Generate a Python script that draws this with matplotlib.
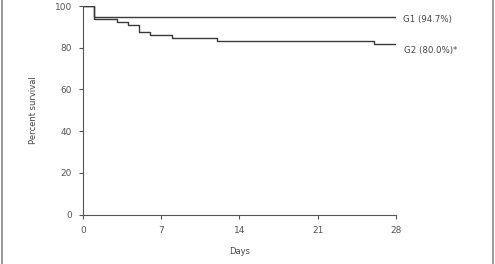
import matplotlib
matplotlib.use("Agg")
import matplotlib.pyplot as plt
from matplotlib.lines import Line2D

# Data
g1_days = [0, 1, 28]
g1_surv = [100, 94.9, 94.9]
g2_days = [0, 1, 3, 4, 5, 6, 8, 12, 26, 28]
g2_surv = [100, 93.6, 92.2, 90.9, 87.5, 86.2, 84.6, 83.1, 81.6, 81.6]
labels = ["G1 (94.7%)", "G2 (80.0%)*"]
xticks = [0, 7, 14, 21, 28]
yticks = [0, 20, 40, 60, 80, 100]

plt.rcParams['font.family'] = ['DejaVu Sans']
fig = plt.figure(figsize=(4.95, 2.64), dpi=100)
ax = fig.add_axes([83/495, 1-214.5/264, (396-83)/495, (214.5-6)/264])

col = '#3a3a3a'
ax.step(g1_days, g1_surv, where='post', color=col, lw=1.0)
ax.step(g2_days, g2_surv, where='post', color=col, lw=1.0)

ax.set_xlim(0, 28)
ax.set_ylim(0, 100)
ax.set_xticks(xticks)
ax.set_yticks(yticks)
for s in ['top', 'right']:
    ax.spines[s].set_visible(False)
for s in ['left', 'bottom']:
    ax.spines[s].set_color('#555555')
    ax.spines[s].set_linewidth(0.8)
ax.tick_params(axis='both', direction='out', length=3, width=0.8, color='#555555',
               labelsize=6.5, labelcolor='#555555', pad=5)
ax.set_xlabel('Days', fontsize=6, color='#444444', labelpad=9)
ax.set_ylabel('Percent survival', fontsize=6, color='#444444', labelpad=12)

ax.text(28.6, g1_surv[-1] - 1.5, labels[0], fontsize=6.2, color='#444444', va='center', ha='left', clip_on=False)
ax.text(28.75, g2_surv[-1] - 3.0, labels[1], fontsize=6.2, color='#444444', va='center', ha='left', clip_on=False)

fig.add_artist(Line2D([2/495, 2/495], [0, 1], transform=fig.transFigure, color='#888888', lw=1.2))
fig.add_artist(Line2D([493/495, 493/495], [0, 1], transform=fig.transFigure, color='#888888', lw=1.2))

fig.savefig('out.png', dpi=100)
